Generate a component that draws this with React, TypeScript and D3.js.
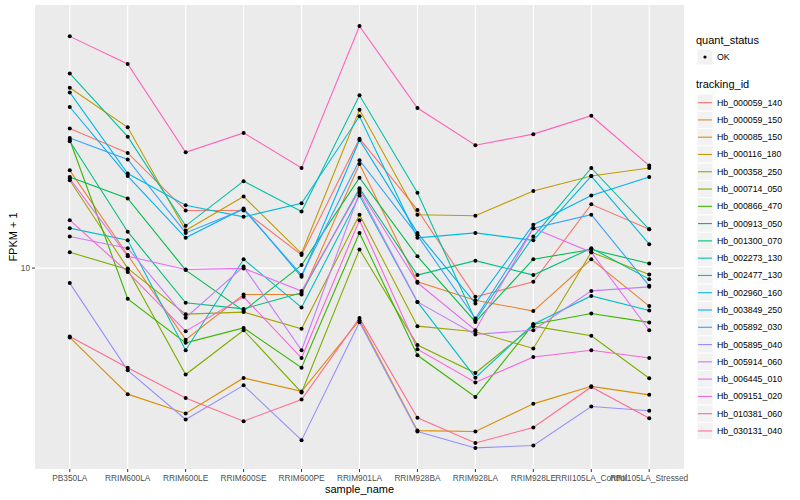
import React from 'react';
import * as d3 from 'd3';

// sample order on the x axis
const samples = [
  'PB350LA', 'RRIM600LA', 'RRIM600LE', 'RRIM600SE', 'RRIM600PE', 'RRIM901LA',
  'RRIM928BA', 'RRIM928LA', 'RRIM928LE', 'RRII105LA_Control', 'RRII105LA_Stressed',
];

const trackingIds = [
  'Hb_000059_140', 'Hb_000059_150', 'Hb_000085_150', 'Hb_000116_180', 'Hb_000358_250',
  'Hb_000714_050', 'Hb_000866_470', 'Hb_000913_050', 'Hb_001300_070', 'Hb_002273_130',
  'Hb_002477_130', 'Hb_002960_160', 'Hb_003849_250', 'Hb_005892_030', 'Hb_005895_040',
  'Hb_005914_060', 'Hb_006445_010', 'Hb_009151_020', 'Hb_010381_060', 'Hb_030131_040',
];

// FPKM + 1 per sample, same order as samples
const hb000059_140 = [25.0, 21.3, 14.6, 14.6, 10.9, 23.4, 14.65, 8.28, 9.14, 15.2, 12.9];
const hb000059_150 = [19.0, 10.9, 6.25, 8.41, 8.41, 19.8, 9.14, 8.10, 7.54, 10.6, 7.79];
const hb000085_150 = [6.34, 4.37, 3.85, 4.86, 4.45, 7.10, 3.44, 3.42, 4.10, 4.60, 4.35];
const hb000116_180 = [32.7, 25.2, 12.8, 16.0, 11.0, 28.3, 14.2, 14.1, 16.6, 18.3, 19.3];
const hb000358_250 = [17.8, 9.98, 7.39, 7.49, 6.71, 14.2, 6.83, 6.58, 5.90, 11.1, 9.59];
const hb000714_050 = [11.1, 9.91, 4.97, 6.65, 4.42, 11.3, 6.03, 5.02, 6.83, 6.41, 4.85];
const hb000866_470 = [23.2, 8.17, 6.12, 6.75, 5.20, 12.6, 5.64, 4.29, 6.92, 7.42, 7.00];
const hb000913_050 = [18.2, 15.8, 9.87, 7.55, 10.2, 18.1, 10.8, 7.02, 10.6, 11.3, 10.3];
const hb001300_070 = [23.0, 12.7, 7.96, 7.65, 8.50, 16.9, 9.55, 10.5, 9.55, 11.4, 9.30];
const hb002273_130 = [35.9, 23.7, 13.2, 17.7, 14.5, 31.1, 16.4, 7.10, 12.3, 19.3, 12.9];
const hb002477_130 = [13.0, 12.0, 5.83, 10.6, 7.72, 16.1, 8.01, 4.87, 6.92, 8.33, 7.57];
const hb002960_160 = [31.7, 18.6, 15.1, 14.0, 15.3, 27.1, 12.2, 12.6, 12.0, 18.3, 11.7];
const hb003849_250 = [28.8, 18.3, 12.2, 14.8, 9.44, 23.2, 12.6, 7.93, 13.3, 16.1, 18.2];
const hb005892_030 = [23.5, 20.4, 12.6, 14.7, 9.55, 20.3, 12.4, 7.18, 13.0, 14.2, 8.90];
const hb005895_040 = [9.06, 5.11, 3.70, 4.63, 3.23, 7.01, 3.42, 3.07, 3.12, 4.03, 3.92];
const hb005914_060 = [12.3, 11.4, 7.22, 10.1, 5.83, 16.4, 8.01, 6.47, 6.65, 8.61, 8.84];
const hb006445_010 = [18.0, 10.8, 9.91, 9.98, 8.60, 16.7, 9.08, 6.65, 13.0, 11.1, 6.65];
const hb009151_020 = [13.7, 9.74, 6.61, 8.28, 5.54, 13.7, 5.87, 4.72, 5.58, 5.83, 5.54];
const hb010381_060 = [45.8, 38.2, 21.4, 24.3, 19.3, 49.0, 28.6, 22.4, 24.1, 27.2, 19.6];
const hb030131_040 = [6.38, 5.20, 4.26, 3.66, 4.22, 7.20, 3.74, 3.17, 3.51, 4.58, 3.73];

const seriesValues = [
  hb000059_140, hb000059_150, hb000085_150, hb000116_180, hb000358_250,
  hb000714_050, hb000866_470, hb000913_050, hb001300_070, hb002273_130,
  hb002477_130, hb002960_160, hb003849_250, hb005892_030, hb005895_040,
  hb005914_060, hb006445_010, hb009151_020, hb010381_060, hb030131_040,
];

const yTicks = [10];

// ggplot default hue palette for 20 levels
const palette = [
  '#F8766D', '#EA8331', '#D89000', '#C09B00', '#A3A500', '#7CAE00', '#39B600',
  '#00BB4E', '#00BF7D', '#00C1A3', '#00BFC4', '#00BAE0', '#00B0F6', '#35A2FF',
  '#9590FF', '#C77CFF', '#E76BF3', '#FA62DB', '#FF62BC', '#FF6C91',
];

const width = 800;
const height = 500;
const panel = { left: 35, right: 684, top: 5, bottom: 469 };
const font = '"Liberation Sans", Arial, Helvetica, sans-serif';

const App: React.FC = () => {
  const x = d3.scalePoint<string>()
    .domain(samples)
    .range([panel.left, panel.right])
    .padding(0.6);

  // log scale with ggplot style 5% expansion in log space
  const all = seriesValues.flat();
  const lo = Math.log10(d3.min(all) as number);
  const hi = Math.log10(d3.max(all) as number);
  const pad = (hi - lo) * 0.05;
  const y = d3.scaleLog()
    .domain([10 ** (lo - pad), 10 ** (hi + pad)])
    .range([panel.bottom, panel.top]);

  const line = d3.line<number>()
    .x((_, i) => x(samples[i]) as number)
    .y(d => y(d));

  const legendX = 697;
  const keyTop = 94;
  const keyStep = 17.28;

  return (
    <svg width={width} height={height} style={{ display: 'block', position: 'absolute', left: 0, top: 0 }}
      fontFamily={font}>
      <rect width={width} height={height} fill="#ffffff" />

      {/* panel */}
      <rect x={panel.left} y={panel.top} width={panel.right - panel.left}
        height={panel.bottom - panel.top} fill="#EBEBEB" />
      {yTicks.map(t => (
        <line key={t} x1={panel.left} x2={panel.right} y1={y(t)} y2={y(t)}
          stroke="#ffffff" strokeWidth={1.1} />
      ))}
      {samples.map(s => (
        <line key={s} x1={x(s)} x2={x(s)} y1={panel.top} y2={panel.bottom}
          stroke="#ffffff" strokeWidth={1.1} />
      ))}

      {seriesValues.map((vals, i) => (
        <path key={trackingIds[i]} d={line(vals) as string} fill="none"
          stroke={palette[i]} strokeWidth={1.1} />
      ))}
      {seriesValues.map((vals, i) => vals.map((v, j) => (
        <circle key={`${i}-${j}`} cx={x(samples[j])} cy={y(v)} r={2} fill="#000000" />
      )))}

      {/* x axis */}
      {samples.map(s => (
        <g key={s}>
          <line x1={x(s)} x2={x(s)} y1={panel.bottom} y2={panel.bottom + 3}
            stroke="#333333" strokeWidth={1} />
          <text x={x(s)} y={panel.bottom + 12} textAnchor="middle" fontSize={8.3}
            fill="#4D4D4D">{s}</text>
        </g>
      ))}
      <text x={(panel.left + panel.right) / 2} y={493} textAnchor="middle" fontSize={11}
        fill="#000000">sample_name</text>

      {/* y axis */}
      {yTicks.map(t => (
        <g key={t}>
          <line x1={panel.left - 3} x2={panel.left} y1={y(t)} y2={y(t)}
            stroke="#333333" strokeWidth={1} />
          <text x={panel.left - 5} y={y(t) + 3} textAnchor="end" fontSize={8.3}
            fill="#4D4D4D">{t}</text>
        </g>
      ))}
      <text transform={`translate(17,${(panel.top + panel.bottom) / 2}) rotate(-90)`}
        textAnchor="middle" fontSize={11} fill="#000000">FPKM + 1</text>

      {/* legend: quant_status */}
      <text x={legendX - 1} y={44} fontSize={11} fill="#000000">quant_status</text>
      <rect x={legendX} y={49} width={16} height={16} fill="#F2F2F2" stroke="#ffffff" />
      <circle cx={legendX + 8} cy={57} r={1.6} fill="#000000" />
      <text x={legendX + 20} y={60} fontSize={8.8} fill="#000000">OK</text>

      {/* legend: tracking_id */}
      <text x={legendX - 1} y={88} fontSize={11} fill="#000000">tracking_id</text>
      {trackingIds.map((id, i) => {
        const top = keyTop + i * keyStep;
        return (
          <g key={id}>
            <rect x={legendX} y={top} width={16} height={keyStep} fill="#F2F2F2"
              stroke="#ffffff" strokeWidth={1} />
            <line x1={legendX + 1} x2={legendX + 15} y1={top + keyStep / 2} y2={top + keyStep / 2}
              stroke={palette[i]} strokeWidth={1.1} />
            <text x={legendX + 20} y={top + keyStep / 2 + 3} fontSize={8.8} fill="#000000">{id}</text>
          </g>
        );
      })}
    </svg>
  );
};

export default App;
